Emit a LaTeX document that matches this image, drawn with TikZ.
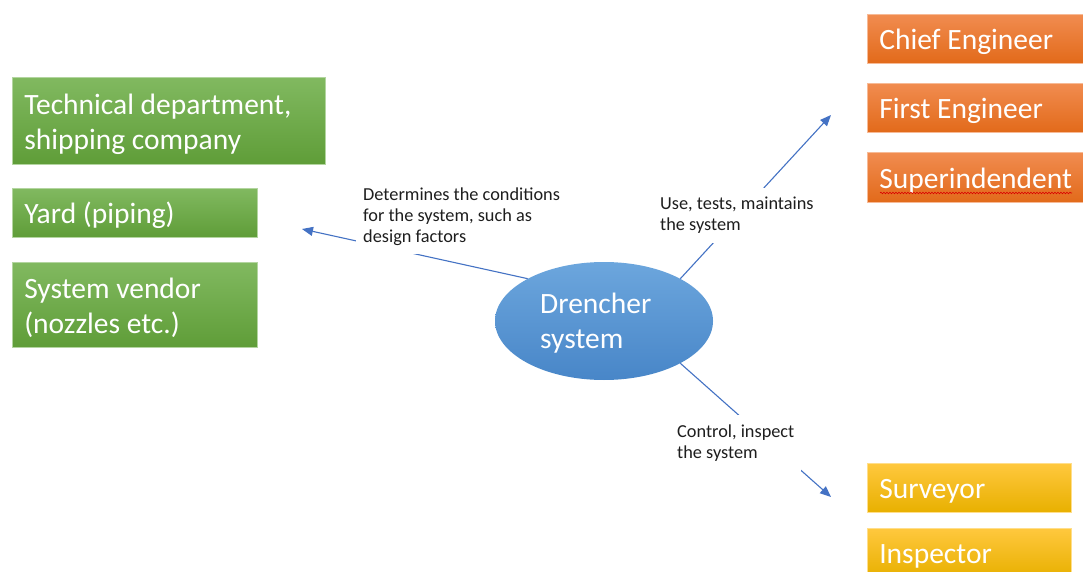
\documentclass[tikz,border=0pt]{standalone}
\usepackage{fontspec}
\setmainfont{Carlito}
\usetikzlibrary{shapes.geometric,arrows.meta,decorations.pathmorphing}
\definecolor{gtop}{RGB}{129,185,96}
\definecolor{gbot}{RGB}{95,157,56}
\definecolor{otop}{RGB}{241,140,80}
\definecolor{obot}{RGB}{226,106,26}
\definecolor{ytop}{RGB}{255,200,62}
\definecolor{ybot}{RGB}{232,176,0}
\definecolor{btop}{RGB}{108,166,221}
\definecolor{bbot}{RGB}{72,134,200}
\definecolor{lnc}{RGB}{68,114,196}
\definecolor{lbltext}{RGB}{30,30,30}
\newcommand{\boxstrut}{\rule{0pt}{27pt}}
\begin{document}
\begin{tikzpicture}[x=1pt,y=-1pt,
  bigfont/.style={font=\fontsize{29.5}{35}\selectfont},
  box/.style={rectangle, anchor=north west, inner sep=0pt, inner xsep=12pt,
    align=flush left, text=white, bigfont, line width=0.6pt},
  gbox/.style={box, top color=gtop, bottom color=gbot, draw=gtop!60!white},
  obox/.style={box, top color=otop, bottom color=obot, draw=otop!60!white},
  ybox/.style={box, top color=ytop, bottom color=ybot, draw=ytop!60!white},
  lbl/.style={anchor=north west, fill=white, inner xsep=7pt, align=left,
    text=lbltext, font=\fontsize{18.3}{21}\selectfont},
  conn/.style={draw=lnc, line width=1.1pt, -{Triangle[length=11pt,width=9pt]}}
]
\clip (0,0) rectangle (1083,572);
\fill[white] (0,0) rectangle (1083,572);

% left group
\node[gbox, minimum width=313pt, minimum height=87pt, text width=289pt] (tech) at (12,77)
  {\boxstrut Technical department,\\shipping company};
\node[gbox, minimum width=245pt, minimum height=49pt, text width=221pt] (yard) at (12,188)
  {\boxstrut Yard (piping)};
\node[gbox, minimum width=245pt, minimum height=85pt, text width=221pt] (vendor) at (12,262)
  {\boxstrut System vendor\\(nozzles etc.)};

% right upper group
\node[obox, minimum width=216pt, minimum height=49pt, text width=192pt] (chief) at (867,14)
  {\boxstrut Chief Engineer};
\node[obox, minimum width=216pt, minimum height=49pt, text width=192pt] (first) at (867,83)
  {\boxstrut First Engineer};
\node[obox, minimum width=216pt, minimum height=50pt, text width=192pt] (super) at (867,152)
  {\boxstrut Superindendent};
\draw[red!85!black, line width=0.6pt, decorate,
  decoration={snake, amplitude=0.8pt, segment length=3pt}] (880,193) -- (1072,193);

% right lower group
\node[ybox, minimum width=204pt, minimum height=49pt, text width=180pt] (surveyor) at (867,463)
  {\boxstrut Surveyor};
\node[ybox, minimum width=204pt, minimum height=49pt, text width=180pt] (inspector) at (867,528)
  {\boxstrut Inspector};

% centre
\node[ellipse, minimum width=218pt, minimum height=118pt, inner sep=0pt,
  top color=btop, bottom color=bbot] (drencher) at (604,321) {};
\node[anchor=west, align=left, text=white, bigfont, inner sep=0pt] (drenchertxt) at (540,323)
  {Drencher\\system};

% connector ends
\coordinate (tipL) at (302,229);
\coordinate (tipUR) at (831,115);
\coordinate (tipLR) at (831,497);

\draw[conn] (drencher.151) -- (tipL);
\draw[conn] (drencher.29) -- (tipUR);
\draw[conn] (drencher.-29) -- (tipLR);

% labels (cover the connectors)
\node[lbl, inner ysep=8pt] (lblL) at (356,180)
  {Determines the conditions\\for the system, such as\\design factors};
\node[lbl, inner ysep=9pt] (lblUR) at (653,188)
  {Use, tests, maintains\\the system};
\node[lbl, inner ysep=10pt] (lblLR) at (670,415)
  {Control, inspect\\the system};
\end{tikzpicture}
\end{document}
